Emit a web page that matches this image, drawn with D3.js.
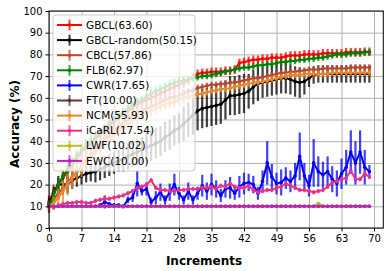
<!DOCTYPE html>
<html><head><meta charset="utf-8">
<script src="https://cdn.jsdelivr.net/npm/d3@7"></script>
<style>body{margin:0;background:#fff}</style>
</head><body><svg id="c" width="391" height="271"></svg>
<script>
const increments = d3.range(70);
const xTicks = [0,7,14,21,28,35,42,49,56,63,70];
const yTicks = [0,10,20,30,40,50,60,70,80,90,100];

const labels = ["GBCL(63.60)","GBCL-random(50.15)","CBCL(57.86)","FLB(62.97)","CWR(17.65)","FT(10.00)","NCM(55.93)","iCaRL(17.54)","LWF(10.02)","EWC(10.00)"];
const colors = ["#ff0000","#000000","#b8472f","#008000","#0000ff","#5e3833","#e8862a","#e8308a","#bcbd22","#bf1fbf"];

const gbcl = [12,17,20,23,26,29,32,35,37,39, 41,43,45,47,49,51,52.5,54,55.5,57, 58,59,60,61,62,63,64,65,66,67, 68,69.5,71,71.5,71.5,72,72,72,72.5,72.5, 73,76,76.5,77,77.5,77.5,78,78,78.5,78.5, 78.5,79,79.5,79.5,79.5,80,80,80,80,80.5, 80.5,80.5,80.5,80.5,81,81,81,81,81.2,81.2];
const gbclRandom = [11,16,20,20,20,22,23,24,25,25.5, 26,27,28,29,30,31,32,33,34,35, 36,37,38,39,40,42,43,45,46,48, 50,52,54,55,55.5,56,56.5,57,59,61, 61,61.5,62,63,65,66.5,67,67.5,68,68.5, 69,69,68.5,67.5,67,67.5,69,70.5,71,71, 71,71,71,71,71,71,71,71,71,71];
const cbcl = [10,13,16,18.5,21,23.5,26,28.5,31,33.5, 36,38.5,41,43,45,47,48.5,50,51.5,53, 54,55,56,57,58,59,60,60.5,61,62, 63,63.5,64.5,65,65.5,66,66,66.5,66.5,67, 67,67.5,68,68.5,69,69,69.5,70,70.5,71, 71.5,71.5,72,72,72.5,72.5,73,73,73,73.5, 73.5,73.5,73.5,73.5,73.5,74,74,74,74,74];
const flb = [10,15,20,24,27,30,33,36,38,40, 42,44,46,48,50,52,53.5,55,56.5,58, 59,60.5,62,63,64,65,66,67,67.5,68, 68.5,69,69.5,70,70,70.5,71,71.5,72,72.5, 73,73.5,74,74,74.5,75,75,75.5,75.5,76, 76.5,76.5,77,77,77.5,77.5,78,78,78.5,78.5, 79,79.5,80,80,80,80.5,80.5,80.5,81,81];
const cwr = [10,10,10,10,10,10,10,10,10,10,10,10.5, 12,11,10.5,10.5,10,13,14,20.5,17,18, 12,14,16.5,13,16.5,20,16,13,17,13, 16,19.5,17,20,18,15,18,18.5,16,19, 20.5,21,20,16,21.5,30,23.5,20.5,21,23, 21.5,24,33,24,19.5,30,26,24.5,26,22.5, 20.5,25,28,35,30,35,28,26];
const ft = [10,10,10,10,10,10,10,10,10,10, 10,10,10,10,10,10,10,10,10,10, 10,10,10,10,10,10,10,10,10,10, 10,10,10,10,10,10,10,10,10,10, 10,10,10,10,10,10,10,10,10,10, 10,10,10,10,10,10,10,10,10,10, 10,10,10,10,10,10,10,10,10,10];
const ncm = [10,11.5,14,17,20,23,26,28.5,31,33, 35,37,39,41,43,45,46.5,48,49.5,51, 52,53,54,55,56,57,57.5,58,59,60, 60.5,61,61.5,62,62.5,63,63.5,64,64,64.5, 65,65.5,66,66.5,67,67,67.5,68,68.5,69, 69.5,70,70.5,70.5,70.5,71,71,71,71,71, 71,71.5,71.5,71.5,71.5,71.5,71.5,71.5,71.5,71.5];
const icarl = [10,9.5,10.5,11,11.5,11.5,12,12,11.5,11.5, 12.5,13,13.5,13.5,14,14.5,15,16,17,18.5, 19,20,22,18.5,17.5,17.5,17,17,17.5,17.5, 18,18,18,18.5,18.5,19,18,19.5,19,20.5, 19,18.5,18.5,19.5,17.5,16.5,17,17.5,17.5,18.5, 19,20.5,19.5,18.5,17.5,17.5,17,16.5,17,17.5, 19,21,21.5,22.5,23,26.5,22.5,22.5,25,23.5];
const lwf = [10,10,10,10,10,10,10,10,10,10, 10,10,10,10,10,10,10,10,10,10, 10,10,10,10,10,10,10,10,10,10, 10,10,10,10,10,10,10,10,10,10, 10,10,10,10,10,10,10,10,10,10, 10,10,10,10,10,10,10,10,11.4,10, 10,10,10,10,10,10,10,10,10,10];
const ewc = [10,10,10,10,10,10,10,10,10,10, 10,10,10,10,10,10,10,10,10,10, 10,10,10,10,10,10,10,10,10,10, 10,10,10,10,10,10,10,10,10,10, 10,10,10,10,10,10,10,10,10,10, 10,10,10,10,10,10,10,10,10,10, 10,10,10,10,10,10,10,10,10,10];

const gbclErr = [3,3,3,3,3,3,3,3,3,3, 2.5,2.5,2.5,2.5,2.5,2.5,2.5,2.5,2.5,2.5, 2.5,2.5,2.5,2.5,2.5,2.5,2.5,2.5,2.5,2.5, 2,2,2,2,2,2,2,2,2,2, 2,2,2,2,2,2,2,2,2,2, 2,2,2,2,2,2,2,2,2,2, 2,2,2,2,2,2,2,2,2,2];
const gbclRandomErr = [3,3,4,4,4,4,4,4,4,4, 5,5,5,5,5,5,6,6,6,6, 6,7,7,7,7,7,7,7,7,8, 8,9,9,9,9,9,9,9,9,9, 9,9,9,8,8,8,7,7,7,7, 7,7,7,7,7,6,4,4,4,4, 4,4,4,4,4,4,4,4,4,4];
const cbclErr = [3,3,3,3,3,3,3,3,3,3, 2,2,2,2,2,2,2,2,2,2, 2,2,2,2,2,2,2,2,2,2, 1.5,1.5,1.5,1.5,1.5,1.5,1.5,1.5,1.5,1.5, 1.5,1.5,1.5,1.5,1.5,1.5,1.5,1.5,1.5,1.5, 1.5,1.5,1.5,1.5,1.5,1.5,1.5,1.5,1.5,1.5, 1.5,1.5,1.5,1.5,1.5,1.5,1.5,1.5,1.5,1.5];
const flbErr = [3,3,3,3,3,3,3,3,3,3, 2,2,2,2,2,2,2,2,2,2, 2,2,2,2,2,2,2,2,2,2, 1.5,1.5,1.5,1.5,1.5,1.5,1.5,1.5,1.5,1.5, 1.5,1.5,1.5,1.5,1.5,1.5,1.5,1.5,1.5,1.5, 1.5,1.5,1.5,1.5,1.5,1.5,1.5,1.5,1.5,1.5, 1.5,1.5,1.5,1.5,1.5,1.5,1.5,1.5,1.5,1.5];
const cwrErr = [0.3,0.3,0.3,0.3,0.3,0.3,0.3,0.3,0.3,0.3,0.3,1, 3,1,1,1,1,1.5,2,6,2,3, 2,3,4,2,4,5,3,2,4,2, 3,5,4,5,4,3,4,5,3,5, 5,4,4,3,5,10,6,5,6,5, 5,6,11,6,5,11,7,6,7,6, 6,7,8,10,10,10,8,3];
const ftErr = [0,0,0,0,0,0,0,0,0,0, 0,0,0,0,0,0,0,0,0,0, 0,0,0,0,0,0,0,0,0,0, 0,0,0,0,0,0,0,0,0,0, 0,0,0,0,0,0,0,0,0,0, 0,0,0,0,0,0,0,0,0,0, 0,0,0,0,0,0,0,0,0,0];
const ncmErr = [2,3,4,5,5,5,5,5,5,4, 3,3,3,3,3,3,3,3,3,3, 2.5,2.5,2.5,2.5,2.5,2.5,2.5,2.5,2.5,2.5, 1.5,1.5,1.5,1.5,1.5,1.5,1.5,1.5,1.5,1.5, 1.5,1.5,1.5,1.5,1.5,1.5,1.5,1.5,1.5,1.5, 1.5,1.5,1.5,1.5,1.5,1.5,1.5,1.5,1.5,1.5, 1.5,1.5,1.5,1.5,1.5,1.5,1.5,1.5,1.5,1.5];
const icarlErr = [1,1,1,1,1,1,1,1,1,1, 1,1,1,1,1,1,1,1,1,1, 1,1,1,1,1,1,1,1,1,1, 1,1,1,1,1,1,1,1,1,1, 1,1,1,1,1,1,1,1,1,1, 1,1,1,1,1,1,1,1,1,1, 1,1,1,1,1,1,1,1,1,1];
const lwfErr = ftErr;
const ewcErr = ftErr;

const values = [gbcl,gbclRandom,cbcl,flb,cwr,ft,ncm,icarl,lwf,ewc];
const errors = [gbclErr,gbclRandomErr,cbclErr,flbErr,cwrErr,ftErr,ncmErr,icarlErr,lwfErr,ewcErr];

const svg = d3.select("#c");
const L = 49, R = 383.3, T = 11, B = 228;
const x = d3.scaleLinear().domain([0, 72]).range([L, R]);
const y = d3.scaleLinear().domain([0, 100]).range([B, T]);
const FONT = "DejaVu Sans, sans-serif";

// grid
svg.append("g").attr("transform",`translate(0,${B})`)
  .call(d3.axisBottom(x).tickValues(xTicks).tickSize(-(B-T)).tickFormat(""))
  .call(g=>{g.select(".domain").remove(); g.selectAll("line").attr("stroke","#b0b0b0").attr("stroke-width",1);});
svg.append("g").attr("transform",`translate(${L},0)`)
  .call(d3.axisLeft(y).tickValues(yTicks).tickSize(-(R-L)).tickFormat(""))
  .call(g=>{g.select(".domain").remove(); g.selectAll("line").attr("stroke","#b0b0b0").attr("stroke-width",1);});

const plot = svg.append("g");
const line = d3.line().x((d,i)=>x(increments[i])).y(d=>y(d));
values.forEach((vals, s)=>{
  const g = plot.append("g");
  const c = colors[s];
  g.selectAll("line.err").data(vals).join("line")
    .attr("x1",(d,i)=>x(increments[i])).attr("x2",(d,i)=>x(increments[i]))
    .attr("y1",(d,i)=>y(d-errors[s][i])).attr("y2",(d,i)=>y(d+errors[s][i]))
    .attr("stroke",c).attr("stroke-width",2.2).attr("stroke-opacity",0.75);
  g.append("path").datum(vals).attr("d",line).attr("fill","none")
    .attr("stroke",c).attr("stroke-width",2).attr("stroke-linejoin","round");
  g.selectAll("circle").data(vals).join("circle")
    .attr("cx",(d,i)=>x(increments[i])).attr("cy",d=>y(d)).attr("r",1.8).attr("fill",c);
});

// frame
svg.append("rect").attr("x",L).attr("y",T).attr("width",R-L).attr("height",B-T)
  .attr("fill","none").attr("stroke","#000").attr("stroke-width",1);

// axes
const xa = svg.append("g").attr("transform",`translate(0,${B})`)
  .call(d3.axisBottom(x).tickValues(xTicks).tickSize(3.5).tickPadding(3));
const ya = svg.append("g").attr("transform",`translate(${L},0)`)
  .call(d3.axisLeft(y).tickValues(yTicks).tickSize(3.5).tickPadding(3));
[xa,ya].forEach(a=>{
  a.select(".domain").remove();
  a.selectAll("text").attr("font-family",FONT).attr("font-size",10).attr("fill","#000");
  a.selectAll("line").attr("stroke","#000");
});

svg.append("text").attr("x",204).attr("y",265).attr("text-anchor","middle")
  .attr("font-family",FONT).attr("font-size",12).attr("font-weight","bold").text("Increments");
svg.append("text").attr("transform","translate(19,124) rotate(-90)").attr("text-anchor","middle")
  .attr("font-family",FONT).attr("font-size",12).attr("font-weight","bold").text("Accuracy (%)");

// legend
const lg = svg.append("g");
lg.append("rect").attr("x",53).attr("y",15).attr("width",142).attr("height",156).attr("rx",3)
  .attr("fill","#fff").attr("fill-opacity",0.8).attr("stroke","#cccccc").attr("stroke-width",1);
labels.forEach((lab,s)=>{
  const yy = 25 + s*15.1;
  const c = colors[s];
  lg.append("line").attr("x1",57).attr("x2",82).attr("y1",yy).attr("y2",yy).attr("stroke",c).attr("stroke-width",2);
  lg.append("line").attr("x1",69.5).attr("x2",69.5).attr("y1",yy-5.5).attr("y2",yy+5.5).attr("stroke",c).attr("stroke-width",2).attr("stroke-opacity",0.75);
  lg.append("circle").attr("cx",69.5).attr("cy",yy).attr("r",1.8).attr("fill",c);
  lg.append("text").attr("x",86).attr("y",yy).attr("dy","0.35em")
    .attr("font-family",FONT).attr("font-size",10.5).attr("fill","#000").text(lab);
});
</script></body></html>
